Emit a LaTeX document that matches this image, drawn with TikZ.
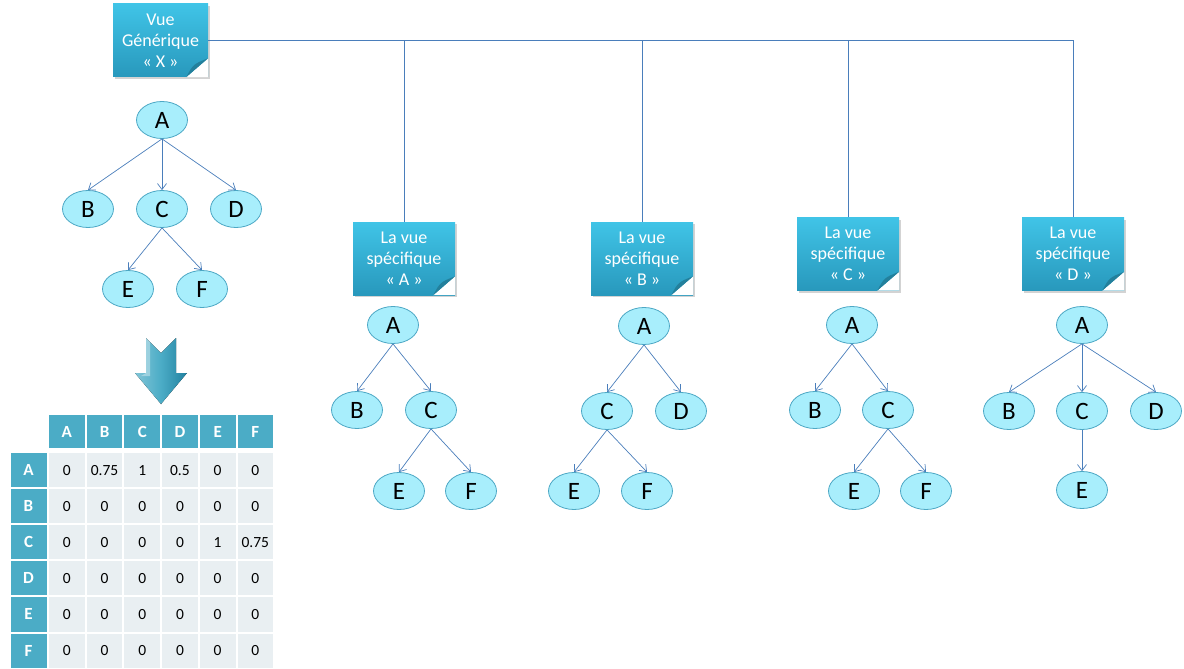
\documentclass[tikz,border=0pt]{standalone}
\usepackage{fontspec}
\setmainfont{Carlito}
\usepackage{tikz}
\usetikzlibrary{positioning, arrows.meta, calc, shadows, shapes.geometric}
\definecolor{boxtop}{HTML}{40C4E7}
\definecolor{boxbottom}{HTML}{2898BC}
\definecolor{foldblue}{HTML}{23809C}
\definecolor{linkblue}{HTML}{4A7EBB}
\definecolor{nodefill}{HTML}{A8EEFC}
\definecolor{nodedraw}{HTML}{4DA8C5}
\definecolor{headblue}{HTML}{4BACC6}
\definecolor{cellgray}{HTML}{E9EFF2}
\tikzset{
  notebox/.style={rectangle, minimum width=102, minimum height=73, inner sep=0,
    top color=boxtop, bottom color=boxbottom, text=white, align=center,
    font=\fontsize{18}{21}\selectfont,
    drop shadow={shadow xshift=2pt, shadow yshift=-2pt, opacity=0.35}},
  vnode/.style={ellipse, draw=nodedraw, fill=nodefill, line width=0.8pt,
    minimum width=51, minimum height=37, inner sep=0, font=\fontsize{25}{27}\selectfont},
  edge/.style={draw=linkblue, line width=0.7pt, -{Straight Barb[length=6pt,width=9pt]}},
  link/.style={draw=linkblue, line width=0.8pt},
  headcell/.style={rectangle, fill=headblue, text=white, minimum width=35.7, minimum height=33,
    inner sep=0, font=\fontsize{17}{19}\selectfont\bfseries},
  bodycell/.style={rectangle, fill=cellgray, minimum width=35.7, minimum height=34.1,
    inner sep=0, font=\fontsize{15.5}{17}\selectfont}
}
% folded corner of a note box
\newcommand{\pagefold}[1]{%
  \fill[white] ([yshift=19pt]#1.south east) -- (#1.south east) -- ([xshift=-22pt]#1.south east) -- cycle;
  \fill[foldblue] ([yshift=19pt]#1.south east) .. controls ([xshift=-15pt,yshift=13pt]#1.south east) .. ([xshift=-22pt]#1.south east) -- cycle;}

\begin{document}
\begin{tikzpicture}[x=1pt, y=-1pt]
  \useasboundingbox (0,0) rectangle (1184,669);

  % Views
  \node[notebox, minimum width=95] (gen) at (160.5,40.5) {Vue\\Générique\\« X »};
  \node[notebox] (vA) at (404,258.5) {La vue\\spécifique\\« A »};
  \node[notebox] (vB) at (642,258.5) {La vue\\spécifique\\« B »};
  \node[notebox] (vC) at (848,254) {La vue\\spécifique\\« C »};
  \node[notebox] (vD) at (1073,254) {La vue\\spécifique\\« D »};
  \foreach \v in {gen,vA,vB,vC,vD} {\pagefold{\v}}

  % Links from the generic view
  \draw[link] (gen.east) -- (gen.east -| vD.north);
  \foreach \v in {vA,vB,vC,vD}
    \draw[link] (\v.north) -- (\v.north |- gen.east);

  % --- generic tree ---
  \node[vnode] (gA) at (162,120) {A};
  \node[vnode] (gB) at (88,209) {B};
  \node[vnode] (gC) at (162,209) {C};
  \node[vnode] (gD) at (236,209) {D};
  \node[vnode] (gE) at (128,289) {E};
  \node[vnode] (gF) at (202,289) {F};
  \draw[edge] (gA.south) -- (gB.north);
  \draw[edge] (gA.south) -- (gC.north);
  \draw[edge] (gA.south) -- (gD.north);
  \draw[edge] (gC.south) -- (gE.north);
  \draw[edge] (gC.south) -- (gF.north);

  % --- tree A ---
  \node[vnode] (aA) at (393,325) {A};
  \node[vnode] (aB) at (357,410) {B};
  \node[vnode] (aC) at (431,410) {C};
  \node[vnode] (aE) at (399,491) {E};
  \node[vnode] (aF) at (471,491) {F};
  \draw[edge] (aA.south) -- (aB.north);
  \draw[edge] (aA.south) -- (aC.north);
  \draw[edge] (aC.south) -- (aE.north);
  \draw[edge] (aC.south) -- (aF.north);

  % --- tree B ---
  \node[vnode] (bA) at (644,326) {A};
  \node[vnode] (bC) at (607,411) {C};
  \node[vnode] (bD) at (681,411) {D};
  \node[vnode] (bE) at (574,491) {E};
  \node[vnode] (bF) at (647,491) {F};
  \draw[edge] (bA.south) -- (bC.north);
  \draw[edge] (bA.south) -- (bD.north);
  \draw[edge] (bC.south) -- (bE.north);
  \draw[edge] (bC.south) -- (bF.north);

  % --- tree C ---
  \node[vnode] (cA) at (852,325) {A};
  \node[vnode] (cB) at (815,410) {B};
  \node[vnode] (cC) at (888,410) {C};
  \node[vnode] (cE) at (854,491) {E};
  \node[vnode] (cF) at (926,491) {F};
  \draw[edge] (cA.south) -- (cB.north);
  \draw[edge] (cA.south) -- (cC.north);
  \draw[edge] (cC.south) -- (cE.north);
  \draw[edge] (cC.south) -- (cF.north);

  % --- tree D ---
  \node[vnode] (dA) at (1082,325) {A};
  \node[vnode] (dB) at (1009,411) {B};
  \node[vnode] (dC) at (1082,411) {C};
  \node[vnode] (dD) at (1156,411) {D};
  \node[vnode] (dE) at (1082,490) {E};
  \draw[edge] (dA.south) -- (dB.north);
  \draw[edge] (dA.south) -- (dC.north);
  \draw[edge] (dA.south) -- (dD.north);
  \draw[edge] (dC.south) -- (dE.north);

  % Down arrow
  \fill[left color=headblue!70!white, right color=headblue] (146,338) -- (161,353) -- (161,404) -- (135,373) -- (146,373) -- cycle;
  \fill[left color=headblue, right color=boxbottom!85!black] (161,353) -- (176,338) -- (176,373) -- (187,373) -- (161,404) -- cycle;
  \fill[white, opacity=0.35] (146,338) -- (150,342) -- (150,376) -- (141,376) -- (146,373) -- cycle;

  % Matrix
  \foreach \lab [count=\i] in {A,B,C,D,E,F} {
    \node[headcell] (h\i) at ({48+37.7*(\i-0.5)},431.5) {\lab};
    \node[headcell, minimum width=36, minimum height=34.1] (r\i) at (28.5,{452+36.1*(\i-0.5)}) {\lab};
  }
  \foreach \row [count=\j] in {{0,0.75,1,0.5,0,0},{0,0,0,0,0,0},{0,0,0,0,1,0.75},
                               {0,0,0,0,0,0},{0,0,0,0,0,0},{0,0,0,0,0,0}}
    \foreach \v [count=\i] in \row
      \node[bodycell] (c\j-\i) at ({48+37.7*(\i-0.5)},{452+36.1*(\j-0.5)}) {\v};
\end{tikzpicture}
\end{document}
